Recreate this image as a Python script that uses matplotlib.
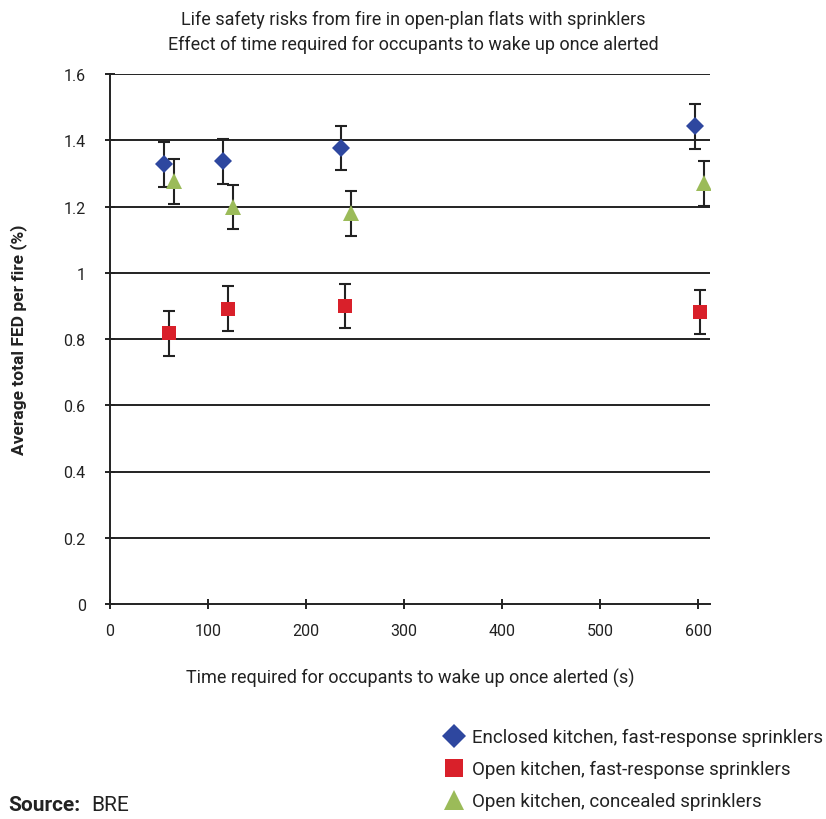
import matplotlib
matplotlib.use("Agg")
import matplotlib.pyplot as plt
from matplotlib.lines import Line2D

plt.rcParams['font.family'] = ['Roboto', 'DejaVu Sans']

# wake-up time (s) and average total FED per fire (%) with error half-widths
enclosed_x = [55, 115, 236, 597]
enclosed_y = [1.327, 1.336, 1.376, 1.442]
enclosed_err = [0.068, 0.068, 0.067, 0.067]

open_fast_x = [60, 120, 240, 602]
open_fast_y = [0.817, 0.892, 0.899, 0.882]
open_fast_err = [0.067, 0.067, 0.067, 0.067]

open_conc_x = [65, 125, 246, 606]
open_conc_y = [1.276, 1.199, 1.179, 1.270]
open_conc_err = [0.067, 0.067, 0.067, 0.068]

labels = ["Enclosed kitchen, fast-response sprinklers",
          "Open kitchen, fast-response sprinklers",
          "Open kitchen, concealed sprinklers"]
colors = ["#2E479F", "#D9202A", "#9BBB59"]
markers = ["D", "s", "^"]
msizes = [9, 9.5, 11]

xticks = [0, 100, 200, 300, 400, 500, 600]
yticks = [0, 0.2, 0.4, 0.6, 0.8, 1.0, 1.2, 1.4, 1.6]
ytick_labels = ["0", "0.2", "0.4", "0.6", "0.8", "1", "1.2", "1.4", "1.6"]

fig = plt.figure(figsize=(8.26, 8.2), dpi=100)
ax = fig.add_axes([110 / 826, 1 - 605 / 820, 600 / 826, 530 / 820])

for y in yticks[1:]:
    ax.axhline(y, color="#222222", lw=1.4, zorder=1)

series = [(enclosed_x, enclosed_y, enclosed_err),
          (open_fast_x, open_fast_y, open_fast_err),
          (open_conc_x, open_conc_y, open_conc_err)]
for (xs, ys, es), c, m, s in zip(series, colors, markers, msizes):
    ax.errorbar(xs, ys, yerr=es, fmt="none", ecolor="#222222", elinewidth=1.5,
                capsize=4, capthick=1.5, zorder=2)
    ax.plot(xs, ys, linestyle="none", marker=m, color=c, markersize=s,
            markeredgewidth=0, zorder=3)

ax.set_xlim(0, 612)
ax.set_ylim(0, 1.6)
ax.set_xticks(xticks)
ax.set_yticks(yticks)
ax.set_yticklabels(ytick_labels)
for side in ["top", "right"]:
    ax.spines[side].set_visible(False)
for side in ["left", "bottom"]:
    ax.spines[side].set_linewidth(1.4)
    ax.spines[side].set_color("#222222")
ax.tick_params(axis="both", direction="inout", length=7, width=1.4,
               color="#222222", labelsize=11.5, labelcolor="#222222")
ax.tick_params(axis="y", pad=14)
ax.tick_params(axis="x", pad=10)

ax.set_xlabel("Time required for occupants to wake up once alerted (s)",
              fontsize=13, color="#222222", labelpad=22)
ax.set_ylabel("Average total FED per fire (%)", fontsize=12.5,
              fontweight="bold", color="#222222", labelpad=26)

fig.text(0.5, 1 - 20 / 820, "Life safety risks from fire in open-plan flats with sprinklers",
         ha="center", va="center", fontsize=13, color="#222222")
fig.text(0.5, 1 - 45 / 820, "Effect of time required for occupants to wake up once alerted",
         ha="center", va="center", fontsize=13, color="#222222")

handles = [Line2D([], [], linestyle="none", marker=m, color=c, markersize=s + 3,
                  markeredgewidth=0)
           for c, m, s in zip(colors, markers, msizes)]
fig.legend(handles, labels, loc="upper left", bbox_to_anchor=(428 / 826, 1 - 716 / 820),
           frameon=False, fontsize=13.5, labelspacing=0.75, handletextpad=0.25,
           handlelength=1.4, labelcolor="#222222", borderaxespad=0.3)

fig.text(8 / 826, 1 - 806 / 820, "Source:", fontsize=15, fontweight="bold",
         color="#222222", va="center")
fig.text(91 / 826, 1 - 806 / 820, "BRE", fontsize=15, color="#222222", va="center")

fig.savefig("out.png", dpi=100)
